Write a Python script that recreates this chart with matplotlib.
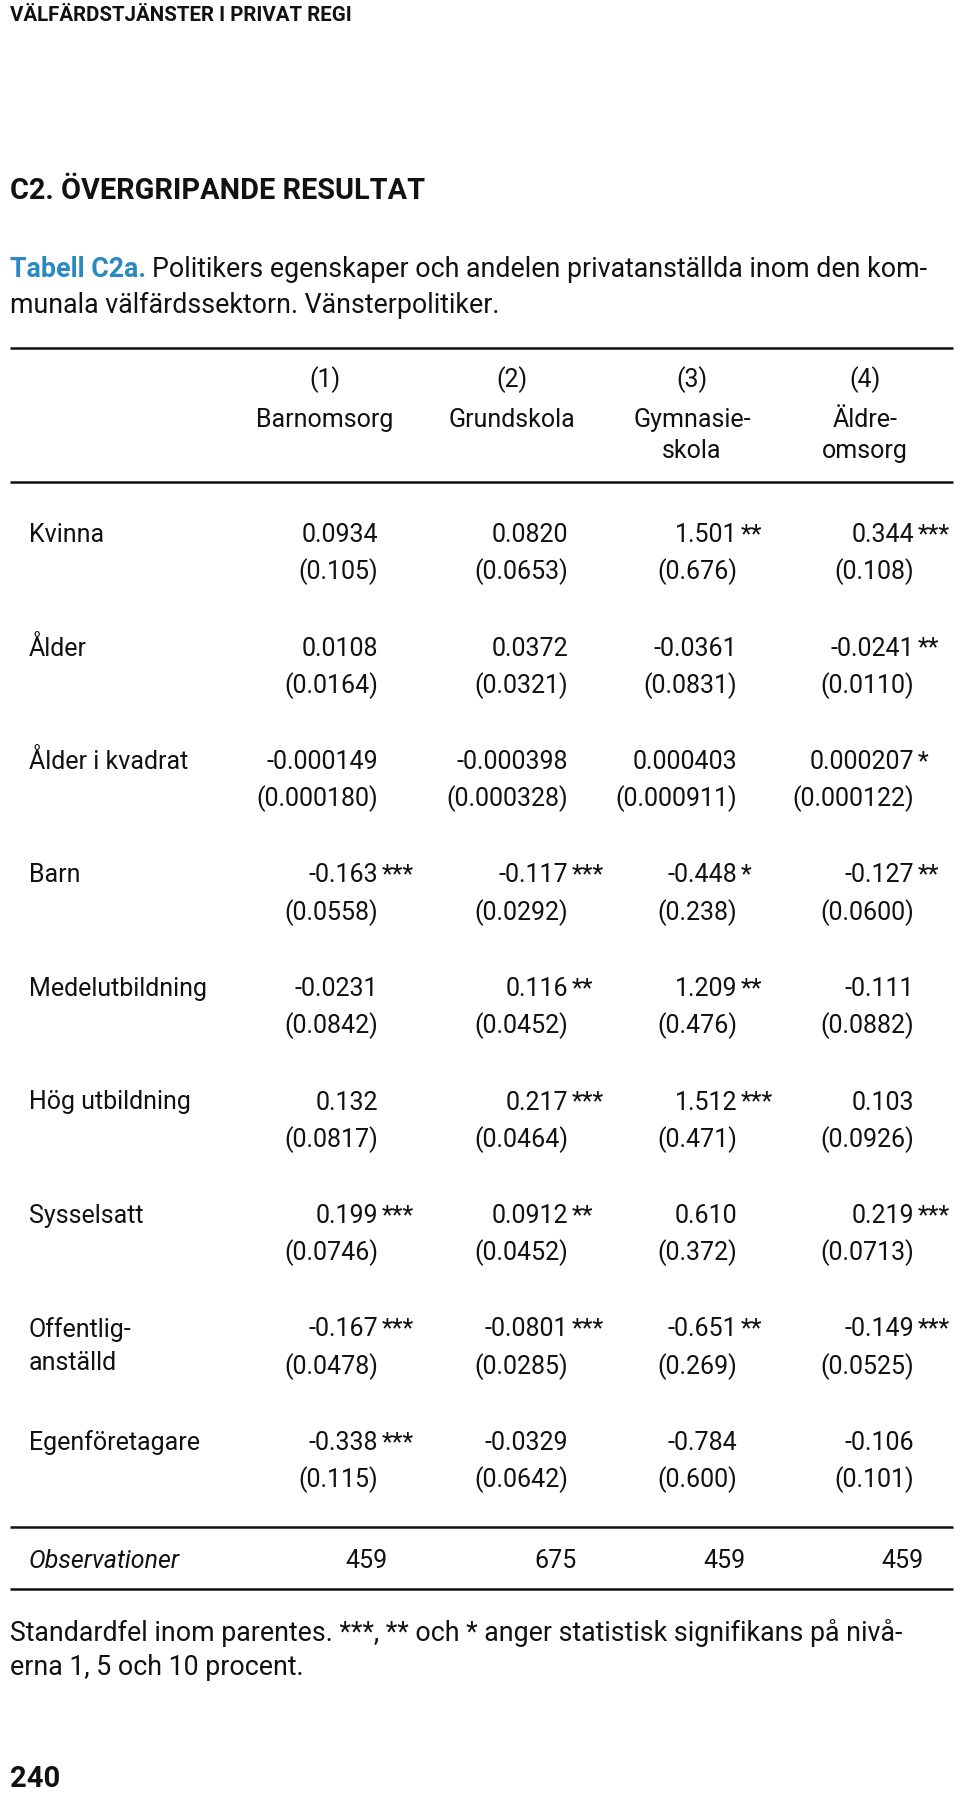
import matplotlib
matplotlib.use("Agg")
import matplotlib.pyplot as plt

plt.rcParams["font.family"] = ["Roboto", "DejaVu Sans"]

# table content
columns = ["(1)", "(2)", "(3)", "(4)"]
column_names = ["Barnomsorg", "Grundskola", "Gymnasie-\nskola", "Äldre-\nomsorg"]
row_labels = ["Kvinna", "Ålder", "Ålder i kvadrat", "Barn", "Medelutbildning",
              "Hög utbildning", "Sysselsatt", "Offentlig-\nanställd", "Egenföretagare"]
coefs = [
    ["0.0934", "0.0820", "1.501", "0.344"],
    ["0.0108", "0.0372", "-0.0361", "-0.0241"],
    ["-0.000149", "-0.000398", "0.000403", "0.000207"],
    ["-0.163", "-0.117", "-0.448", "-0.127"],
    ["-0.0231", "0.116", "1.209", "-0.111"],
    ["0.132", "0.217", "1.512", "0.103"],
    ["0.199", "0.0912", "0.610", "0.219"],
    ["-0.167", "-0.0801", "-0.651", "-0.149"],
    ["-0.338", "-0.0329", "-0.784", "-0.106"],
]
stars = [
    ["", "", "**", "***"],
    ["", "", "", "**"],
    ["", "", "", "*"],
    ["***", "***", "*", "**"],
    ["", "**", "**", ""],
    ["", "***", "***", ""],
    ["***", "**", "", "***"],
    ["***", "***", "**", "***"],
    ["***", "", "", ""],
]
std_errors = [
    ["0.105", "0.0653", "0.676", "0.108"],
    ["0.0164", "0.0321", "0.0831", "0.0110"],
    ["0.000180", "0.000328", "0.000911", "0.000122"],
    ["0.0558", "0.0292", "0.238", "0.0600"],
    ["0.0842", "0.0452", "0.476", "0.0882"],
    ["0.0817", "0.0464", "0.471", "0.0926"],
    ["0.0746", "0.0452", "0.372", "0.0713"],
    ["0.0478", "0.0285", "0.269", "0.0525"],
    ["0.115", "0.0642", "0.600", "0.101"],
]
observations = ["459", "675", "459", "459"]

BLUE = "#2a88c2"
INK = "#111111"
FS = 18      # table text
FS_TXT = 19.3  # caption and footnote

fig = plt.figure(figsize=(9.6, 17.94), dpi=100)
ax = fig.add_axes([0, 0, 1, 1])
ax.set_xlim(0, 960)
ax.set_ylim(1794, 0)
ax.axis("off")
renderer = fig.canvas.get_renderer()

# page header and titles
ax.text(10, 21, "VÄLFÄRDSTJÄNSTER I PRIVAT REGI", fontsize=14.8, fontweight="bold",
        va="baseline", color=INK)
ax.text(10, 199, "C2. ÖVERGRIPANDE RESULTAT", fontsize=20.8, fontweight="bold",
        va="baseline", color=INK)
lead = ax.text(10, 277, "Tabell C2a.", fontsize=FS_TXT, fontweight="bold", color=BLUE,
               va="baseline")
lead_w = lead.get_window_extent(renderer).width
ax.text(10 + lead_w + 6, 277, "Politikers egenskaper och andelen privatanställda inom den kom-",
        fontsize=FS_TXT, va="baseline", color=INK)
ax.text(10, 313, "munala välfärdssektorn. Vänsterpolitiker.", fontsize=FS_TXT,
        va="baseline", color=INK)

# rules
for y in [348, 482, 1527, 1589]:
    ax.plot([10, 953], [y, y], color=INK, lw=1.8, solid_capstyle="butt")

# column headers
col_centers = [325, 512, 692, 865]
for cx, num, name in zip(col_centers, columns, column_names):
    ax.text(cx, 387, num, fontsize=FS, ha="center", va="baseline", color=INK)
    for k, part in enumerate(name.split("\n")):
        ax.text(cx, 427 + k * 31, part, fontsize=FS, ha="center", va="baseline", color=INK)

# body rows
col_right = [378, 568, 737, 914]
y_first, y_step, se_gap = 542, 113.5, 37.5
label_x = 29
for i, label in enumerate(row_labels):
    yb = y_first + i * y_step
    for k, part in enumerate(label.split("\n")):
        ax.text(label_x, yb + k * 33, part, fontsize=FS, va="baseline", color=INK)
    for j, xr in enumerate(col_right):
        ax.text(xr, yb, coefs[i][j], fontsize=FS, ha="right", va="baseline", color=INK)
        if stars[i][j]:
            ax.text(xr + 4, yb, stars[i][j], fontsize=FS, ha="left", va="baseline", color=INK)
        ax.text(xr, yb + se_gap, "(" + std_errors[i][j] + ")", fontsize=FS,
                ha="right", va="baseline", color=INK)

# observations row
obs_right = [387, 577, 746, 923]
ax.text(label_x, 1568, "Observationer", fontsize=FS, style="italic", va="baseline", color=INK)
for xr, n in zip(obs_right, observations):
    ax.text(xr, 1568, n, fontsize=FS, ha="right", va="baseline", color=INK)

# footnote and page number
ax.text(10, 1641, "Standardfel inom parentes. ***, ** och * anger statistisk signifikans på nivå-",
        fontsize=FS_TXT, va="baseline", color=INK)
ax.text(10, 1675, "erna 1, 5 och 10 procent.", fontsize=FS_TXT, va="baseline", color=INK)
ax.text(10, 1787, "240", fontsize=21, fontweight="bold", va="baseline", color=INK)

fig.savefig("out.png", dpi=100, facecolor="white")
